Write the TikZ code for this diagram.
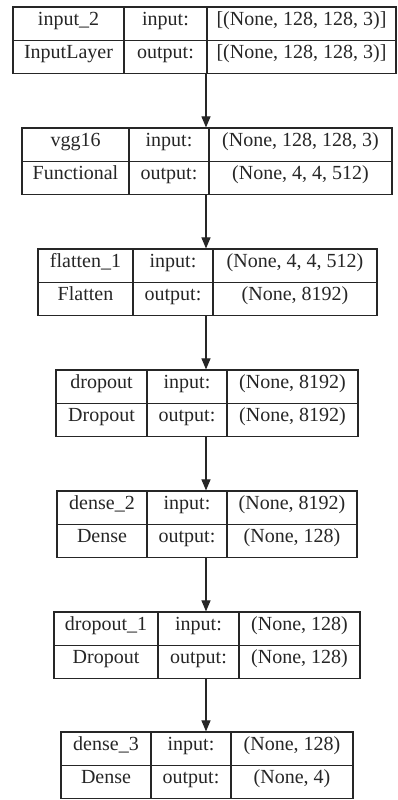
\documentclass[tikz,border=0pt]{standalone}
\usepackage{fontspec}
\setmainfont{Liberation Serif}
\usetikzlibrary{arrows.meta,fit}
\tikzset{
  x=1pt,y=-1pt,
  layerbox/.style={draw=black!85, line width=1.2pt, inner sep=0pt},
  sepline/.style={draw=black!85, line width=1.2pt},
  txt/.style={anchor=base, inner sep=0pt, text=black!85, font=\fontsize{20}{24}\selectfont},
  arr/.style={draw=black!85, line width=1.1pt, -{Triangle[width=9pt,length=11pt]}}
}
\newcommand\mklayer[6]{%
  \pgfmathsetmacro\bt{#2}\pgfmathsetmacro\bb{#2+66.5}\pgfmathsetmacro\bm{#2+33.25}%
  \coordinate (#1-nw) at (#3,\bt);
  \coordinate (#1-se) at (#6,\bb);
  \node[layerbox, fit=(#1-nw)(#1-se)] (#1) {};
  \draw[sepline] (#3,\bm) -- (#6,\bm);
  \draw[sepline] (#4,\bt) -- (#4,\bb);
  \draw[sepline] (#5,\bt) -- (#5,\bb);
  \pgfmathsetmacro\xa{(#3+#4)/2}\pgfmathsetmacro\xb{(#4+#5)/2}\pgfmathsetmacro\xc{(#5+#6)/2}%
  \pgfmathsetmacro\ya{#2+18.5}\pgfmathsetmacro\yb{#2+51.5}%
  \coordinate (#1-a) at (\xa,\ya);
  \coordinate (#1-b) at (\xa,\yb);
  \coordinate (#1-c) at (\xc,\ya);
  \coordinate (#1-d) at (\xc,\yb);
  \node[txt] (#1-in) at (\xb,\ya) {input:};
  \node[txt] (#1-out) at (\xb,\yb) {output:};
}
\newcommand\mktext[5]{%
  \node[txt] (#1-name) at (#1-a) {#2};
  \node[txt] (#1-type) at (#1-b) {#3};
  \node[txt] (#1-ishape) at (#1-c) {#4};
  \node[txt] (#1-oshape) at (#1-d) {#5};
}
\begin{document}
\begin{tikzpicture}
\useasboundingbox (0,0) rectangle (397,800);
\fill[white] (0,0) rectangle (397,800);
\coordinate (ax) at (206,0);

\mklayer{b1}{7}{13}{124}{207}{396}
\mktext{b1}{input\_2}{InputLayer}{[(None, 128, 128, 3)]}{[(None, 128, 128, 3)]}

\mklayer{b2}{128}{22}{129}{209}{392}
\mktext{b2}{vgg16}{Functional}{(None, 128, 128, 3)}{(None, 4, 4, 512)}

\mklayer{b3}{249}{38}{133}{213}{377}
\mktext{b3}{flatten\_1}{Flatten}{(None, 4, 4, 512)}{(None, 8192)}

\mklayer{b4}{370}{56}{147}{227}{358}
\mktext{b4}{dropout}{Dropout}{(None, 8192)}{(None, 8192)}

\mklayer{b5}{491}{57}{147}{227}{357}
\mktext{b5}{dense\_2}{Dense}{(None, 8192)}{(None, 128)}

\mklayer{b6}{612}{54}{158}{239}{360}
\mktext{b6}{dropout\_1}{Dropout}{(None, 128)}{(None, 128)}

\mklayer{b7}{732}{61}{151}{231}{353}
\mktext{b7}{dense\_3}{Dense}{(None, 128)}{(None, 4)}

\draw[arr] (b1.south -| ax) -- (b2.north -| ax);
\draw[arr] (b2.south -| ax) -- (b3.north -| ax);
\draw[arr] (b3.south -| ax) -- (b4.north -| ax);
\draw[arr] (b4.south -| ax) -- (b5.north -| ax);
\draw[arr] (b5.south -| ax) -- (b6.north -| ax);
\draw[arr] (b6.south -| ax) -- (b7.north -| ax);
\end{tikzpicture}
\end{document}
